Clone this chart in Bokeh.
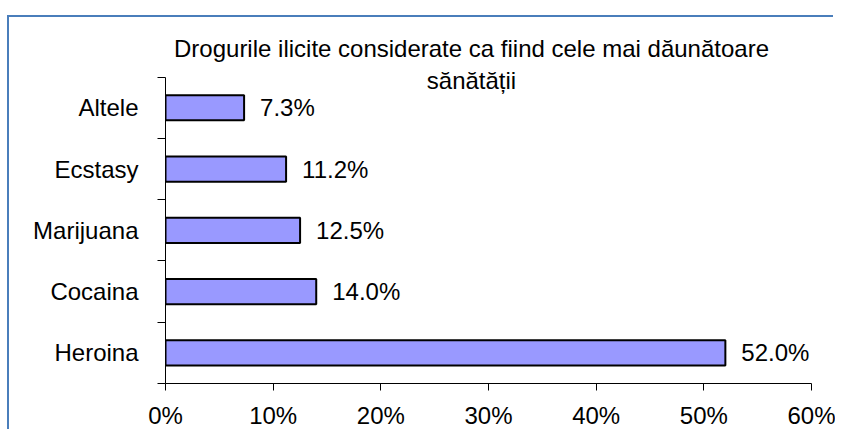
from bokeh.plotting import figure
from bokeh.models import ColumnDataSource, FixedTicker, NumeralTickFormatter, LabelSet, Label, Range1d
from bokeh.core.properties import value
from bokeh.embed import file_html
from bokeh.resources import INLINE

categories = ["Heroina", "Cocaina", "Marijuana", "Ecstasy", "Altele"]
values = [52.0, 14.0, 12.5, 11.2, 7.3]
x_ticks = [0, 10, 20, 30, 40, 50, 60]
title_lines = ["Drogurile ilicite considerate ca fiind cele mai dăunătoare", "sănătății"]

FONT = "Liberation Sans"
FS = "24px"
BORDER = "#4A7EBB"

pos = [i + 0.5 for i in range(len(categories))]
frac = [v / 100 for v in values]
labels = [f"{v:.1f}%" for v in values]
src = ColumnDataSource(dict(y=pos, x=frac, label=labels, cat=categories))

n = len(categories)
xmax = x_ticks[-1] / 100
W, H = 826, 414
LEFT = 156
SCALE = 646.0      # px spanned by the x axis (0 .. xmax)
ROW = 61.6         # px per category
TOPPAD = 60        # px between frame top and axis top
p = figure(width=W, height=H, output_backend="svg", toolbar_location=None,
           x_range=Range1d(0, xmax * (W - LEFT) / SCALE),
           y_range=Range1d(0, n + TOPPAD / ROW),
           min_border_left=LEFT, min_border_right=0, min_border_top=0,
           min_border_bottom=H - int(n * ROW + TOPPAD))
p.margin = (17, 0, 0, 9)
p.stylesheets = [":host { box-shadow: -2px -2px 0 0 %s; }" % BORDER]
p.outline_line_color = None
p.background_fill_color = "white"
p.border_fill_color = "white"
p.xgrid.grid_line_color = None
p.ygrid.grid_line_color = None

p.hbar(y="y", left=0, right="x", height=0.41, source=src,
       fill_color="#9999FF", line_color="black", line_width=2)

p.add_layout(LabelSet(x="x", y="y", text="label", source=src, x_offset=16,
                      text_align="left", text_baseline="middle",
                      text_font=value(FONT), text_font_size=FS, text_color="black"))

# title lines (centred near x≈462px of the canvas)
tx = (462 - LEFT) / SCALE * xmax
p.add_layout(Label(x=tx, y=n + 29 / ROW, text=title_lines[0], text_align="center",
                   text_baseline="alphabetic", text_font=FONT, text_font_size=FS, text_color="black"))
p.add_layout(Label(x=tx, y=n - 3 / ROW, text=title_lines[1], text_align="center",
                   text_baseline="alphabetic", text_font=FONT, text_font_size=FS, text_color="black"))

xa = p.xaxis[0]
xa.bounds = (0, xmax)
xa.ticker = FixedTicker(ticks=[t / 100 for t in x_ticks])
xa.formatter = NumeralTickFormatter(format="0%")
xa.major_tick_out = 7
xa.major_tick_in = 0
xa.minor_tick_line_color = None
xa.axis_line_color = "black"
xa.major_tick_line_color = "black"
xa.major_label_standoff = 11
xa.major_label_text_font = FONT
xa.major_label_text_font_size = FS
xa.major_label_text_color = "black"

ya = p.yaxis[0]
ya.bounds = (0, n)
ya.ticker = FixedTicker(ticks=pos, minor_ticks=list(range(n + 1)))
ya.major_label_overrides = {pp: c for pp, c in zip(pos, categories)}
ya.major_tick_line_color = None
ya.major_tick_out = 0
ya.major_tick_in = 0
ya.minor_tick_out = 8
ya.minor_tick_in = 0
ya.minor_tick_line_color = "black"
ya.axis_line_color = "black"
ya.major_label_standoff = 19
ya.major_label_text_font = FONT
ya.major_label_text_font_size = FS
ya.major_label_text_color = "black"

open("out.html", "w").write(file_html(p, INLINE))
